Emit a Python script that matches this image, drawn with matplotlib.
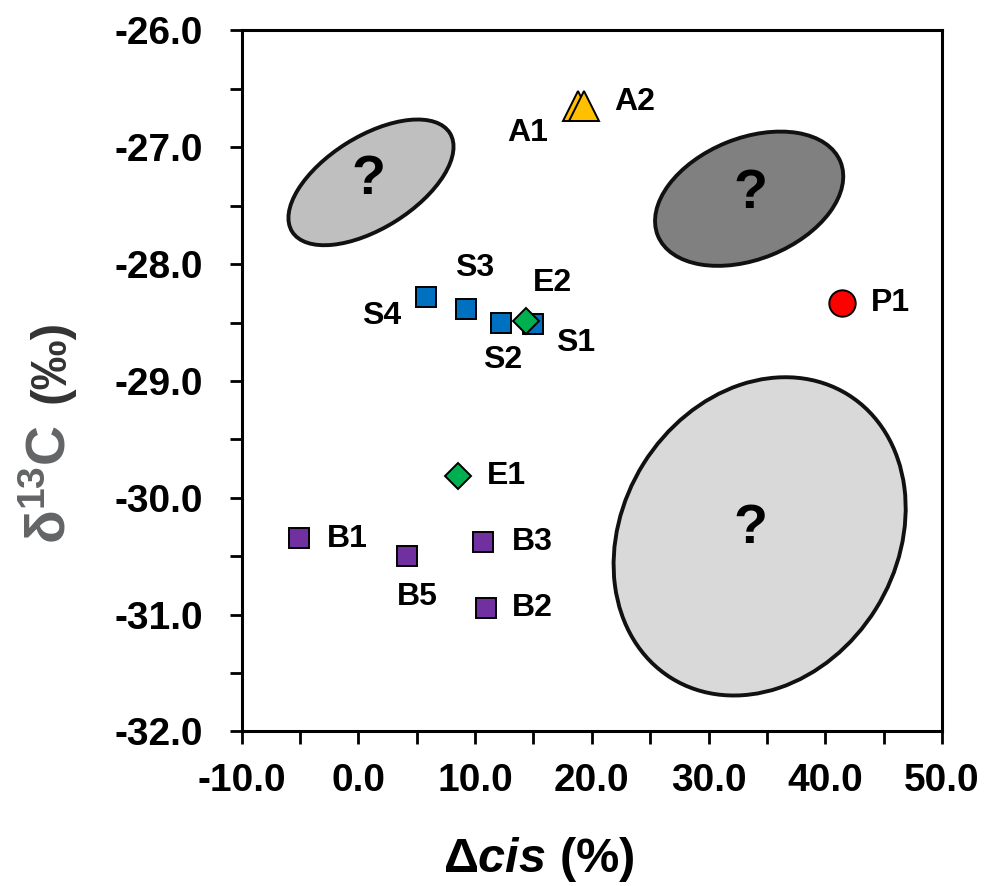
import numpy as np
import matplotlib
matplotlib.use("Agg")
import matplotlib.pyplot as plt
from matplotlib.patches import Ellipse
from matplotlib.transforms import ScaledTranslation
from matplotlib.ticker import MultipleLocator, FormatStrFormatter

plt.rcParams['font.family'] = ['Liberation Sans', 'DejaVu Sans']
plt.rcParams['font.weight'] = 'bold'
plt.rcParams['mathtext.fontset'] = 'custom'
plt.rcParams['mathtext.rm'] = 'Liberation Sans:bold'
plt.rcParams['mathtext.bf'] = 'Liberation Sans:bold'
plt.rcParams['mathtext.it'] = 'Liberation Sans:bold:italic'

# 数据
b_names = ['B1', 'B5', 'B3', 'B2']
b_x = [-5.1, 4.2, 10.7, 10.95]
b_y = [-30.34, -30.50, -30.38, -30.94]

s_names = ['S4', 'S3', 'S2', 'S1']
s_x = [5.8, 9.2, 12.2, 15.0]
s_y = [-28.28, -28.38, -28.50, -28.51]

e_names = ['E1', 'E2']
e_x = [8.5, 14.4]
e_y = [-29.81, -28.49]

a_names = ['A1', 'A2']
a_x = [18.8, 19.3]
a_y = [-26.65, -26.65]

p_names = ['P1']
p_x = [41.4]
p_y = [-28.33]

# 未知区域椭圆：中心(数据坐标)
ell_cx = [1.08, 33.48, 34.38]
ell_cy = [-27.30, -27.44, -30.33]
ell_q_x = [0.9, 33.6, 33.6]
ell_q_y = [-27.28, -27.40, -30.27]

# 标签偏移 (points)
label_offsets = {
    'B1': (35, -1), 'B5': (7, -29.5), 'B3': (35, 0), 'B2': (33, 0),
    'S4': (-32, -14), 'S3': (6.5, 29.5), 'S2': (1, -27), 'S1': (30, -14),
    'E1': (35, 0), 'E2': (19, 28),
    'A1': (-36, -19), 'A2': (37, 3),
    'P1': (35, 0),
}

fig = plt.figure(figsize=(9.88, 8.86), dpi=100)
ax = fig.add_axes([0.2446, 0.1744, 0.7088, 0.7912])

# 椭圆（像素尺寸 -> 英寸），保持屏幕上的倾角
ell_size = [(1.86, 0.92, 32), (1.97, 1.21, 22), (3.34, 2.74, 58)]
ell_fill = ['#BFBFBF', '#808080', '#D9D9D9']
for cx, cy, (w, h, ang), fc in zip(ell_cx, ell_cy, ell_size, ell_fill):
    tr = fig.dpi_scale_trans + ScaledTranslation(cx, cy, ax.transData)
    ax.add_patch(Ellipse((0, 0), w, h, angle=ang, transform=tr,
                         facecolor=fc, edgecolor='#111111', lw=2.8, zorder=1))
for qx, qy in zip(ell_q_x, ell_q_y):
    ax.text(qx, qy, '?', fontsize=40, ha='center', va='center',
            family=['Liberation Sans Narrow', 'Liberation Sans'], zorder=2)

mk = dict(markeredgecolor='black', markeredgewidth=1.4, linestyle='none', zorder=3)
ax.plot(b_x, b_y, marker='s', ms=15, color='#7030A0', **mk)
ax.plot(s_x, s_y, marker='s', ms=15, color='#0070C0', **mk)
ax.plot(e_x, e_y, marker='D', ms=13, color='#00B050', **mk)
ax.plot(a_x, a_y, marker='^', ms=21, color='#FFC000', **mk)
ax.plot(p_x, p_y, marker='o', ms=19, color='#FF0000', **mk)

for names, xs, ys in [(b_names, b_x, b_y), (s_names, s_x, s_y), (e_names, e_x, e_y),
                      (a_names, a_x, a_y), (p_names, p_x, p_y)]:
    for n, x, y in zip(names, xs, ys):
        ax.annotate(n, (x, y), xytext=label_offsets[n], textcoords='offset points',
                    ha='center', va='center', fontsize=23, fontweight='bold', zorder=4)

ax.set_xlim(-10, 50)
ax.set_ylim(-32, -26)
ax.xaxis.set_major_locator(MultipleLocator(10))
ax.xaxis.set_minor_locator(MultipleLocator(5))
ax.yaxis.set_major_locator(MultipleLocator(1))
ax.yaxis.set_minor_locator(MultipleLocator(0.5))
ax.xaxis.set_major_formatter(FormatStrFormatter('%.1f'))
ax.yaxis.set_major_formatter(FormatStrFormatter('%.1f'))
ax.tick_params(which='both', direction='out', length=9, width=2, top=False, right=False)
ax.tick_params(axis='x', which='major', labelsize=28, pad=14)
ax.tick_params(axis='y', which='major', labelsize=28, pad=19)
for lab in ax.get_xticklabels() + ax.get_yticklabels():
    lab.set_fontweight('bold')
for sp in ax.spines.values():
    sp.set_linewidth(2.2)

# 轴标题
ax.text(0.4245, -0.2005, r'Δ$\mathit{cis}$ (%)', transform=ax.transAxes,
        fontsize=35, fontweight='bold', ha='center', va='baseline')
ax.text(-0.271, 0.352, r'δ$^{13}$C', transform=ax.transAxes, rotation=90,
        fontsize=40, fontweight='bold', color='#636466', ha='center', va='center')
ax.text(-0.271, 0.528, '(‰)', transform=ax.transAxes, rotation=90,
        fontsize=36, fontweight='bold', color='#333333', ha='center', va='center')

fig.savefig('out.png', dpi=100)
